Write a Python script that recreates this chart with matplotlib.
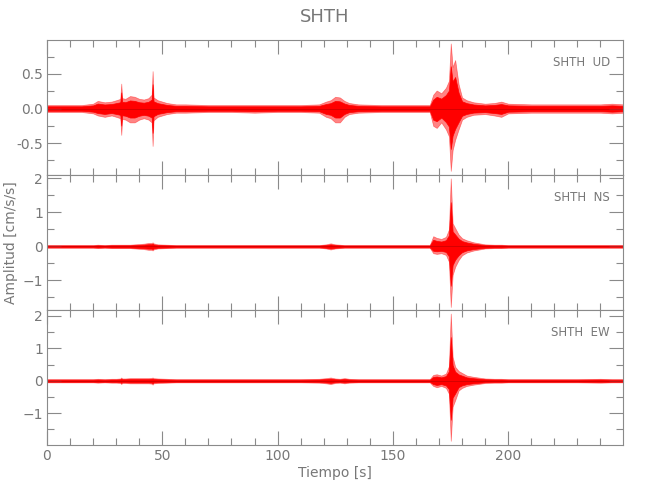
import numpy as np
import matplotlib
matplotlib.use('Agg')
import matplotlib.pyplot as plt
from matplotlib.ticker import MultipleLocator, FormatStrFormatter

# knot times (s) of the envelope
t_knots = [0, 5, 10, 15, 20, 22, 25, 28,
           30, 31.8, 32.2, 32.6, 34, 36, 38, 40,
           42, 44, 45.4, 45.8, 46.2, 48, 52, 56,
           60, 70, 80, 90, 100, 110, 118, 121,
           123, 125, 127, 129, 131, 135, 145, 155,
           162, 166, 167.5, 169, 171, 173, 174.3, 175.1,
           175.9, 177, 178.5, 180, 182, 185, 190, 194,
           197, 200, 210, 220, 230, 240, 245, 250]

ud_hi = [0.05, 0.05, 0.05, 0.05, 0.07, 0.11, 0.09, 0.10,
         0.12, 0.14, 0.36, 0.15, 0.14, 0.18, 0.17, 0.14,
         0.13, 0.15, 0.20, 0.54, 0.16, 0.12, 0.08, 0.06,
         0.06, 0.05, 0.05, 0.05, 0.05, 0.05, 0.06, 0.10,
         0.12, 0.17, 0.16, 0.11, 0.08, 0.06, 0.05, 0.05,
         0.05, 0.05, 0.20, 0.26, 0.22, 0.30, 0.40, 0.94,
         0.60, 0.70, 0.35, 0.16, 0.12, 0.09, 0.07, 0.08,
         0.10, 0.07, 0.06, 0.06, 0.06, 0.06, 0.07, 0.06]
ud_lo = [-0.05, -0.05, -0.05, -0.05, -0.07, -0.10, -0.12, -0.10,
         -0.12, -0.14, -0.38, -0.15, -0.16, -0.20, -0.20, -0.16,
         -0.14, -0.16, -0.20, -0.54, -0.17, -0.12, -0.08, -0.06,
         -0.06, -0.05, -0.05, -0.06, -0.05, -0.05, -0.06, -0.12,
         -0.14, -0.20, -0.20, -0.12, -0.08, -0.06, -0.05, -0.05,
         -0.05, -0.05, -0.25, -0.28, -0.20, -0.30, -0.40, -0.90,
         -0.60, -0.45, -0.30, -0.16, -0.12, -0.09, -0.08, -0.10,
         -0.12, -0.07, -0.06, -0.06, -0.06, -0.06, -0.07, -0.06]

ns_hi = [0.04, 0.04, 0.04, 0.04, 0.04, 0.05, 0.04, 0.05,
         0.05, 0.05, 0.05, 0.05, 0.05, 0.05, 0.06, 0.07,
         0.08, 0.10, 0.10, 0.12, 0.09, 0.06, 0.05, 0.04,
         0.04, 0.04, 0.04, 0.04, 0.04, 0.04, 0.04, 0.06,
         0.09, 0.06, 0.05, 0.04, 0.04, 0.04, 0.04, 0.04,
         0.04, 0.04, 0.30, 0.25, 0.22, 0.28, 0.50, 2.00,
         0.68, 0.54, 0.35, 0.24, 0.18, 0.12, 0.06, 0.05,
         0.05, 0.04, 0.04, 0.04, 0.04, 0.04, 0.04, 0.04]
ns_lo = [-0.04, -0.04, -0.04, -0.04, -0.04, -0.05, -0.04, -0.05,
         -0.05, -0.05, -0.05, -0.05, -0.05, -0.05, -0.06, -0.07,
         -0.08, -0.10, -0.10, -0.12, -0.09, -0.06, -0.05, -0.04,
         -0.04, -0.04, -0.04, -0.04, -0.04, -0.04, -0.04, -0.06,
         -0.09, -0.06, -0.05, -0.04, -0.04, -0.04, -0.04, -0.04,
         -0.04, -0.04, -0.20, -0.22, -0.20, -0.25, -0.45, -1.78,
         -0.84, -0.60, -0.40, -0.26, -0.18, -0.12, -0.06, -0.05,
         -0.05, -0.04, -0.04, -0.04, -0.04, -0.04, -0.04, -0.04]

ew_hi = [0.05, 0.05, 0.05, 0.05, 0.05, 0.06, 0.05, 0.06,
         0.06, 0.07, 0.10, 0.07, 0.07, 0.08, 0.08, 0.08,
         0.08, 0.08, 0.09, 0.10, 0.08, 0.07, 0.06, 0.05,
         0.05, 0.05, 0.05, 0.05, 0.05, 0.05, 0.06, 0.08,
         0.10, 0.07, 0.06, 0.08, 0.06, 0.05, 0.05, 0.05,
         0.05, 0.05, 0.18, 0.20, 0.16, 0.22, 0.45, 2.07,
         0.74, 0.43, 0.30, 0.24, 0.16, 0.12, 0.07, 0.06,
         0.06, 0.05, 0.05, 0.05, 0.05, 0.06, 0.05, 0.05]
ew_lo = [-0.05, -0.05, -0.05, -0.05, -0.05, -0.06, -0.05, -0.06,
         -0.06, -0.07, -0.10, -0.07, -0.07, -0.08, -0.08, -0.08,
         -0.08, -0.08, -0.09, -0.12, -0.08, -0.07, -0.06, -0.05,
         -0.05, -0.05, -0.05, -0.05, -0.05, -0.05, -0.06, -0.08,
         -0.10, -0.07, -0.06, -0.08, -0.06, -0.05, -0.05, -0.05,
         -0.05, -0.05, -0.16, -0.20, -0.16, -0.22, -0.40, -1.85,
         -0.80, -0.60, -0.30, -0.22, -0.16, -0.12, -0.07, -0.06,
         -0.06, -0.05, -0.05, -0.05, -0.05, -0.06, -0.05, -0.05]

station = "SHTH"
components = ["UD", "NS", "EW"]
ylims = [(-0.96, 0.99), (-1.87, 2.1), (-1.98, 2.18)]

grey = '#8a8a8a'
txt = '#777777'
plt.rcParams['font.family'] = ['DejaVu Sans']

fig = plt.figure(figsize=(6.5, 5.0), dpi=100)
bottoms = [0.65, 0.38, 0.11]
traces = [(ud_lo, ud_hi), (ns_lo, ns_hi), (ew_lo, ew_hi)]

t = np.array(t_knots)
axes = []
for i, comp in enumerate(components):
    ax = fig.add_axes([0.0723, bottoms[i], 0.8862, 0.27])
    lo, hi = np.array(traces[i][0]), np.array(traces[i][1])
    # soft outer envelope, solid core
    ax.fill_between(t, lo, hi, color='#ff2020', lw=0.5, alpha=0.55)
    ax.fill_between(t, 0.65 * lo, 0.65 * hi, color='#ff0000', lw=0.5)
    ax.plot(t, np.zeros_like(t), color='#d00000', lw=0.6)
    ax.set_xlim(0, 249.8)
    ax.set_ylim(*ylims[i])

    ax.xaxis.set_major_locator(MultipleLocator(50))
    ax.xaxis.set_minor_locator(MultipleLocator(10))
    if i == 0:
        ax.yaxis.set_major_locator(MultipleLocator(0.5))
        ax.yaxis.set_minor_locator(MultipleLocator(0.25))
        ax.yaxis.set_major_formatter(FormatStrFormatter('%.1f'))
    else:
        ax.yaxis.set_major_locator(MultipleLocator(1))
        ax.yaxis.set_minor_locator(MultipleLocator(0.5))
    ax.tick_params(which='both', direction='in', top=True, right=True,
                   color=grey, labelcolor=txt, labelsize=10, width=0.8, pad=3)
    ax.tick_params(which='major', length=10)
    ax.tick_params(which='minor', length=5)
    if i < 2:
        ax.tick_params(labelbottom=False)
    for sp in ax.spines.values():
        sp.set_color(grey)
        sp.set_linewidth(0.8)

    ax.text(0.977, 0.835, f"{station}  {comp}", transform=ax.transAxes,
            ha='right', va='center', color=txt, fontsize=8.5)
    axes.append(ax)

axes[1].set_ylabel("Amplitud [cm/s/s]", color=txt, fontsize=10)
axes[1].yaxis.set_label_coords(-0.05, 0.5)
axes[2].set_xlabel("Tiempo [s]", color=txt, fontsize=10, labelpad=2)
fig.text(0.5, 0.965, station, ha='center', va='center', color=txt, fontsize=13)

fig.savefig("out.png", dpi=100)
